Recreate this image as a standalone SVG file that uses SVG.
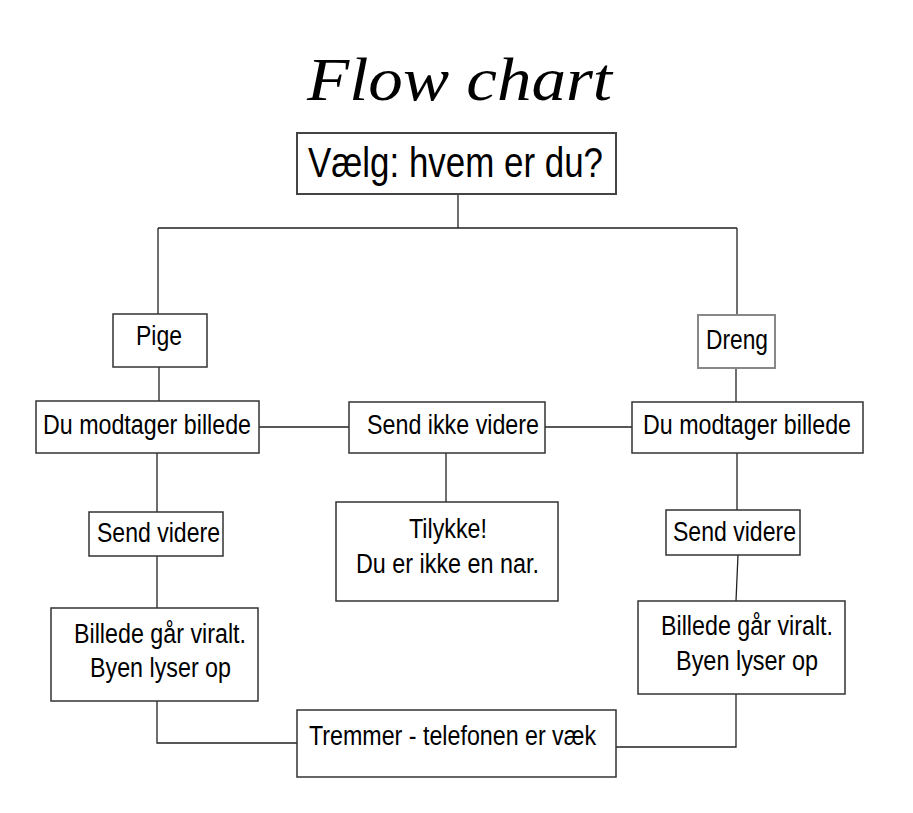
<svg xmlns="http://www.w3.org/2000/svg" width="913" height="813" viewBox="0 0 913 813">
<style>
.box{fill:#fff;stroke:#333;stroke-width:1.5}
.t{font-family:"Liberation Sans",Arial,sans-serif;font-size:27px;fill:#000}
.c{fill:none;stroke:#222;stroke-width:1.3}
</style>
<rect width="913" height="813" fill="#fff"/>
<text x="307" y="100" font-family="'Liberation Serif','DejaVu Serif',serif" font-style="italic" font-size="62" textLength="305" lengthAdjust="spacingAndGlyphs">Flow chart</text>
<g id="connectors">
<path class="c" d="M458,194V228M158,228H737M158,228V314M737,228V315M159,367V401M736,368V402M259,427H353M545,427H640M446,453V502M157,453V512M157,552V608M737,453V510M738,555L736,601M157,701V743H297M736,694V747H616"/>
</g>
<g id="n_top"><rect class="box" x="297" y="133" width="319" height="61" style="stroke:#444;stroke-width:2"/><text class="t" x="308" y="177" style="font-size:42px" textLength="295" lengthAdjust="spacingAndGlyphs">Vælg: hvem er du?</text></g>
<g id="n_pige"><rect class="box" x="113" y="314" width="94" height="53"/><text class="t" x="136" y="345" textLength="46" lengthAdjust="spacingAndGlyphs">Pige</text></g>
<g id="n_dreng"><rect class="box" x="698" y="315" width="77" height="53" style="stroke:#888;stroke-width:2"/><text class="t" x="706" y="349" textLength="62" lengthAdjust="spacingAndGlyphs">Dreng</text></g>
<g id="n_dmb_l"><rect class="box" x="36" y="401" width="223" height="52"/><text class="t" x="43" y="434" textLength="208" lengthAdjust="spacingAndGlyphs">Du modtager billede</text></g>
<g id="n_siv"><rect class="box" x="349" y="402" width="196" height="51"/><text class="t" x="367" y="434" textLength="172" lengthAdjust="spacingAndGlyphs">Send ikke videre</text></g>
<g id="n_dmb_r"><rect class="box" x="632" y="402" width="231" height="51"/><text class="t" x="643" y="434" textLength="208" lengthAdjust="spacingAndGlyphs">Du modtager billede</text></g>
<g id="n_sv_l"><rect class="box" x="89" y="512" width="134" height="44"/><text class="t" x="97" y="542" textLength="123" lengthAdjust="spacingAndGlyphs">Send videre</text></g>
<g id="n_tillykke"><rect class="box" x="336" y="502" width="222" height="99"/><text class="t" x="409" y="538" textLength="78" lengthAdjust="spacingAndGlyphs">Tilykke!</text><text class="t" x="356" y="573" textLength="183" lengthAdjust="spacingAndGlyphs">Du er ikke en nar.</text></g>
<g id="n_sv_r"><rect class="box" x="666" y="510" width="134" height="45"/><text class="t" x="673" y="541" textLength="123" lengthAdjust="spacingAndGlyphs">Send videre</text></g>
<g id="n_bil_l"><rect class="box" x="51" y="608" width="207" height="93"/><text class="t" x="74" y="643" textLength="172" lengthAdjust="spacingAndGlyphs">Billede går viralt.</text><text class="t" x="90" y="677" textLength="141" lengthAdjust="spacingAndGlyphs">Byen lyser op</text></g>
<g id="n_bil_r"><rect class="box" x="638" y="601" width="207" height="93"/><text class="t" x="661" y="635" textLength="172" lengthAdjust="spacingAndGlyphs">Billede går viralt.</text><text class="t" x="676" y="670" textLength="142" lengthAdjust="spacingAndGlyphs">Byen lyser op</text></g>
<g id="n_tremmer"><rect class="box" x="297" y="710" width="319" height="67"/><text class="t" x="309" y="745" textLength="287" lengthAdjust="spacingAndGlyphs">Tremmer - telefonen er væk</text></g>
</svg>
